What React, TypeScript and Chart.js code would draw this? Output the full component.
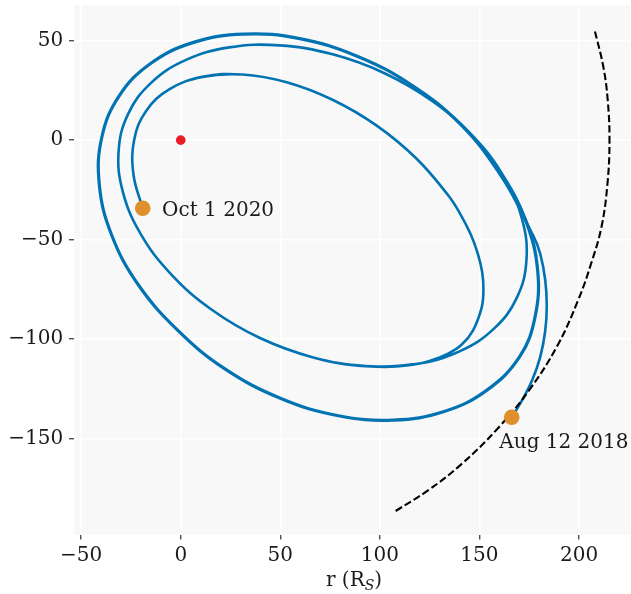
import React, { useEffect, useRef } from "react";
import { Chart, registerables } from "chart.js";

Chart.register(...registerables);

// ---- data (in solar radii) ----
// launch leg: Aug 12 2018 -> joins the first (outer) orbit on the right
const launchX = [166.2, 171.5, 176.5, 180.5, 183, 183.8, 183, 180.5, 177];
const launchY = [-139.2, -130.5, -120.5, -109, -96, -83, -70, -57, -48];

// outer orbit (orbits 1-3, run three times), counter-clockwise from the upper right
const outerX = [159.5, 140.4, 116.1, 88.6, 59.8, 31.6, 6.0, -15.3, -30.9, -39.6, -40.9, -34.8, -21.5, -1.2, 22.2, 49.7, 78.5, 106.7, 132.3, 153.6, 170.2, 177.9, 179.2, 173.1];
const outerY = [-15.8, 8.1, 27.6, 42.2, 51.0, 53.3, 49.0, 38.4, 22.3, 1.6, -22.2, -47.4, -72.4, -95.8, -114.9, -129.5, -138.3, -140.6, -136.3, -125.7, -108.8, -88.9, -65.1, -39.9];
const outerPasses = 3;

// middle orbit (orbits 4-5), same start point on the upper right
const middleX = [162.4, 147.2, 126.8, 102.6, 76.3, 49.6, 24.4, 2.4, -14.9, -26.4, -31.2, -29.0, -20.0, -4.8, 15.6, 39.8, 66.1, 92.8, 118.0, 140.0, 157.3, 168.8, 173.6, 171.4];
const middleY = [-18.6, 1.5, 19.3, 33.5, 43.1, 47.6, 46.6, 40.2, 28.8, 13.2, -5.6, -26.2, -47.3, -67.4, -85.2, -99.4, -109.0, -113.5, -112.5, -106.1, -94.7, -79.1, -60.3, -39.7];
// second run of the middle orbit stops at the bottom (index of the last point kept)
const middleSecondPassEnd = 18;

// inner orbit (after the third Venus flyby) up to Oct 1 2020
const innerX = [126.0, 134.0, 141.0, 146.8, 151.1, 152.0, 151.4, 149.2, 145.6, 140.6, 134.3, 118.2, 98.4, 76.2, 53.2, 30.9, 10.9, -5.6, -17.3, -23.4, -23.7, -19.1];
const innerY = [-110.6, -107.4, -102.8, -95.5, -84.1, -75.6, -66.5, -57.1, -47.3, -37.5, -27.7, -9.1, 7.3, 20.3, 29.1, 33.0, 31.8, 25.6, 14.8, 0.1, -17.5, -34.2];

// Earth's orbit (dashed)
const earthX = [107.9, 123.8, 140.7, 159.3, 175.1, 189, 199.6, 206.2, 211.3, 214.3, 215.3, 214.4, 212.2, 207.6];
const earthY = [-186.3, -176.2, -163.0, -144.7, -125.4, -103.5, -80.3, -61.6, -43.5, -21.7, 0, 20.2, 36.9, 56.2];

const sunX = [0];
const sunY = [0];

const markerX = [166.2, -19.1];
const markerY = [-139.2, -34.2];
const markerLabels = ["Aug 12 2018", "Oct 1 2020"];

const xTicks = [-50, 0, 50, 100, 150, 200];
const yTicks = [-150, -100, -50, 0, 50];

// ---- styles ----
const BLUE = "#0173b2";
const ORANGE = "#df8f2b";
const RED = "#ec1c24";
const BG = "#f8f8f8";
const TEXT = "#1a1a1a";
const FONT_FAMILY = '"DejaVu Serif", serif';
const FS = 20;

const pts = (xs: number[], ys: number[]) => xs.map((x, i) => ({ x, y: ys[i] }));
const fmt = (v: number) => (v < 0 ? "\u2212" + Math.abs(v) : String(v));

export default function App() {
  const ref = useRef<HTMLCanvasElement | null>(null);

  useEffect(() => {
    const canvas = ref.current;
    if (!canvas) return;

    const outer = pts(outerX, outerY);
    const middle = pts(middleX, middleY);
    const outerRuns: { x: number; y: number }[] = [];
    for (let k = 0; k < outerPasses; k++) outerRuns.push(...outer);
    const path = [
      ...pts(launchX, launchY),
      ...outerRuns,
      ...middle,
      ...middle.slice(0, middleSecondPassEnd + 1),
      ...pts(innerX, innerY),
    ];
    const outerStart = launchX.length;
    const outerEnd = outerStart + outerRuns.length - 1;

    const bgPlugin = {
      id: "bgPlugin",
      beforeDraw(chart: any) {
        const { ctx, chartArea } = chart;
        ctx.save();
        ctx.fillStyle = BG;
        ctx.fillRect(chartArea.left, chartArea.top, chartArea.right - chartArea.left, chartArea.bottom - chartArea.top);
        ctx.restore();
      },
    };

    const textPlugin = {
      id: "textPlugin",
      afterDraw(chart: any) {
        const { ctx, chartArea } = chart;
        const xs = chart.scales.x;
        const ys = chart.scales.y;
        ctx.save();
        ctx.fillStyle = TEXT;
        ctx.font = `${FS}px ${FONT_FAMILY}`;
        ctx.textAlign = "left";
        ctx.textBaseline = "alphabetic";
        const dx = [-12.4, 19.4];
        const dy = [30.5, 7.7];
        markerLabels.forEach((t, i) => {
          const px = xs.getPixelForValue(markerX[i]);
          const py = ys.getPixelForValue(markerY[i]);
          ctx.fillText(t, px + dx[i], py + dy[i]);
        });
        // x axis title: r (R_S)
        const main1 = "r (R";
        const sub = "S";
        const main2 = ")";
        ctx.font = `${FS}px ${FONT_FAMILY}`;
        const w1 = ctx.measureText(main1).width;
        const w3 = ctx.measureText(main2).width;
        ctx.font = `italic 14px ${FONT_FAMILY}`;
        const w2 = ctx.measureText(sub).width;
        const total = w1 + w2 + w3;
        const cx = (chartArea.left + chartArea.right) / 2 + 2;
        let x0 = cx - total / 2;
        const base = 585.5;
        ctx.font = `${FS}px ${FONT_FAMILY}`;
        ctx.fillText(main1, x0, base);
        x0 += w1;
        ctx.font = `italic 14px ${FONT_FAMILY}`;
        ctx.fillText(sub, x0, base + 4);
        x0 += w2;
        ctx.font = `${FS}px ${FONT_FAMILY}`;
        ctx.fillText(main2, x0, base);
        ctx.restore();
      },
    };

    const noPad = (s: any) => {
      s.paddingTop = 0;
      s.paddingBottom = 0;
      s.paddingLeft = 0;
      s.paddingRight = 0;
    };

    const chart = new Chart(canvas, {
      type: "scatter",
      data: {
        datasets: [
          {
            label: "markers",
            data: pts(markerX, markerY),
            pointRadius: 7.8,
            pointBackgroundColor: ORANGE,
            backgroundColor: ORANGE,
            pointBorderWidth: 0,
            borderWidth: 0,
            showLine: false,
            order: 0,
          },
          {
            label: "sun",
            data: pts(sunX, sunY),
            pointRadius: 4.8,
            pointBackgroundColor: RED,
            backgroundColor: RED,
            pointBorderWidth: 0,
            borderWidth: 0,
            showLine: false,
            order: 0,
          },
          {
            label: "earth",
            data: pts(earthX, earthY),
            showLine: true,
            borderColor: "#000000",
            borderWidth: 2.1,
            borderDash: [7.4, 3.2],
            pointRadius: 0,
            tension: 0.4,
            order: 1,
          },
          {
            label: "psp",
            data: path,
            showLine: true,
            borderColor: BLUE,
            borderWidth: 2.6,
            pointRadius: 0,
            tension: 0.4,
            borderJoinStyle: "round",
            borderCapStyle: "round",
            segment: {
              borderWidth: (c: any) => (c.p0DataIndex >= outerStart && c.p1DataIndex <= outerEnd ? 3.2 : 2.6),
            },
            order: 2,
          },
        ],
      },
      options: {
        responsive: false,
        animation: false,
        events: [],
        layout: { autoPadding: false, padding: { left: 0, right: 1, top: 5, bottom: 0 } },
        plugins: { legend: { display: false }, tooltip: { enabled: false }, title: { display: false } },
        scales: {
          x: {
            type: "linear",
            min: -53.6,
            max: 225.6,
            afterBuildTicks: (s: any) => {
              s.ticks = xTicks.map((v) => ({ value: v }));
            },
            afterFit: (s: any) => {
              s.height = 59.5;
              noPad(s);
            },
            grid: { color: "#ffffff", lineWidth: 1.5, tickColor: "#333333", tickLength: 5, tickWidth: 1.2 },
            border: { display: false },
            ticks: {
              font: { family: FONT_FAMILY, size: FS },
              color: TEXT,
              padding: 4.5,
              maxRotation: 0,
              autoSkip: false,
              callback: (v: any) => fmt(Number(v)),
            },
          },
          y: {
            type: "linear",
            min: -198.1,
            max: 67.9,
            afterBuildTicks: (s: any) => {
              s.ticks = yTicks.map((v) => ({ value: v }));
            },
            afterFit: (s: any) => {
              s.width = 74;
              noPad(s);
            },
            grid: { color: "#ffffff", lineWidth: 1.5, tickColor: "#333333", tickLength: 5, tickWidth: 1.2 },
            border: { display: false },
            ticks: {
              font: { family: FONT_FAMILY, size: FS },
              color: TEXT,
              padding: 5.7,
              autoSkip: false,
              callback: (v: any) => fmt(Number(v)),
            },
          },
        },
      },
      plugins: [bgPlugin, textPlugin],
    } as any);

    return () => chart.destroy();
  }, []);

  return (
    <div style={{ position: "fixed", left: 0, top: 0, width: 631, height: 594, background: "#ffffff" }}>
      <canvas ref={ref} width={631} height={594} style={{ display: "block", width: 631, height: 594 }} />
    </div>
  );
}
